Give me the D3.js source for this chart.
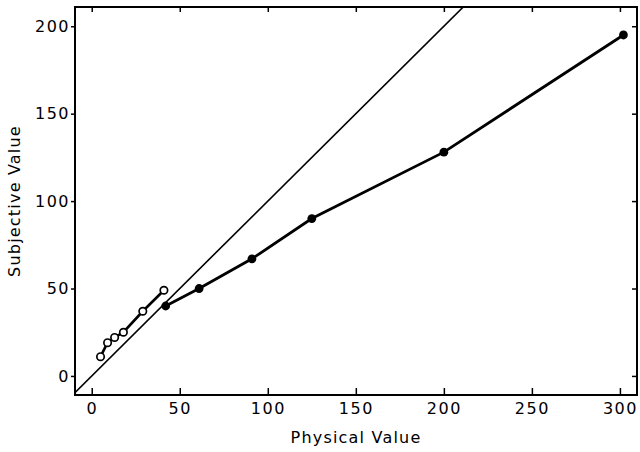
<!DOCTYPE html>
<html><head><meta charset="utf-8">
<script src="https://cdn.jsdelivr.net/npm/d3@7"></script>
<style>body{margin:0;background:#fff}svg{display:block}</style>
</head><body>
<script>
const openX = [5, 9, 13, 18, 29, 41];
const openY = [11, 19, 22, 25, 37, 49];
const filledX = [42, 61, 91, 125, 200, 302];
const filledY = [40, 50, 67, 90, 128, 195];
const xTicks = [0, 50, 100, 150, 200, 250, 300];
const yTicks = [0, 50, 100, 150, 200];
const xTitle = "Physical Value";
const yTitle = "Subjective Value";

const W = 640, H = 452;
const L = 75, R = 637, T = 7, B = 395;
const x = d3.scaleLinear().domain([-9.5, 309.7]).range([L, R]);
const y = d3.scaleLinear().domain([-10.9, 211]).range([B, T]);

const svg = d3.select("body").append("svg").attr("width", W).attr("height", H);
const font = "DejaVu Sans";

svg.append("clipPath").attr("id","c").append("rect")
  .attr("x", L).attr("y", T).attr("width", R-L).attr("height", B-T);

const gB = svg.append("g").attr("transform", `translate(0,${B})`)
  .call(d3.axisBottom(x).tickValues(xTicks).tickSize(-7).tickPadding(8));
const gT = svg.append("g").attr("transform", `translate(0,${T})`)
  .call(d3.axisTop(x).tickValues(xTicks).tickSize(-5).tickFormat(""));
const gL = svg.append("g").attr("transform", `translate(${L},0)`)
  .call(d3.axisLeft(y).tickValues(yTicks).tickSize(4).tickPadding(1));
const gR = svg.append("g").attr("transform", `translate(${R},0)`)
  .call(d3.axisRight(y).tickValues(yTicks).tickSize(-5).tickFormat(""));
[gB,gT,gL,gR].forEach(g => {
  g.select(".domain").remove();
  g.selectAll(".tick line").attr("stroke","#000").attr("stroke-width",1.5);
  g.selectAll("text").attr("font-family", font).attr("font-size", 16)
    .attr("letter-spacing", 1.5).attr("fill","#000");
});
gB.selectAll("text").attr("dy", "0.71em");

svg.append("rect").attr("x", L).attr("y", T).attr("width", R-L).attr("height", B-T)
  .attr("fill","none").attr("stroke","#000").attr("stroke-width",2);

const plot = svg.append("g").attr("clip-path","url(#c)");

plot.append("line")
  .attr("x1", x(-12)).attr("y1", y(-12))
  .attr("x2", x(230)).attr("y2", y(230))
  .attr("stroke","#000").attr("stroke-width",1.6);

const line = d3.line().x(d => x(d[0])).y(d => y(d[1]));
const openData = openX.map((v,i) => [v, openY[i]]);
const filledData = filledX.map((v,i) => [v, filledY[i]]);

plot.append("path").datum(filledData).attr("d", line)
  .attr("fill","none").attr("stroke","#000").attr("stroke-width",2.8);
plot.append("path").datum(openData).attr("d", line)
  .attr("fill","none").attr("stroke","#000").attr("stroke-width",2.6);

plot.selectAll(".f").data(filledData).enter().append("circle")
  .attr("cx", d => x(d[0])).attr("cy", d => y(d[1])).attr("r", 4.4)
  .attr("fill","#000");
plot.selectAll(".o").data(openData).enter().append("circle")
  .attr("cx", d => x(d[0])).attr("cy", d => y(d[1])).attr("r", 3.7)
  .attr("fill","#fff").attr("stroke","#000").attr("stroke-width",1.7);

svg.append("text").attr("x", (L+R)/2).attr("y", 443).attr("text-anchor","middle")
  .attr("font-family", font).attr("font-size", 16).attr("letter-spacing", 1.2)
  .attr("fill","#000").text(xTitle);
svg.append("text").attr("transform", `translate(20,${(T+B)/2}) rotate(-90)`)
  .attr("text-anchor","middle")
  .attr("font-family", font).attr("font-size", 16).attr("letter-spacing", 1.2)
  .attr("fill","#000").text(yTitle);
</script>
</body></html>
